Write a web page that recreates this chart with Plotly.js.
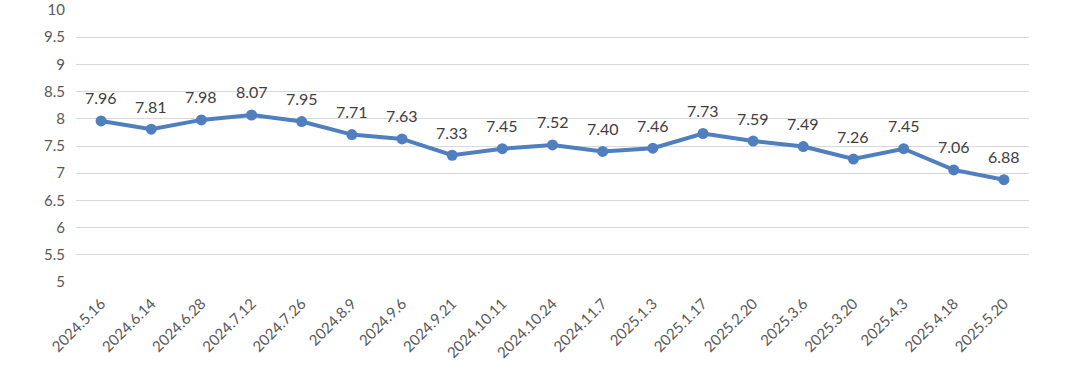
<!DOCTYPE html>
<html>
<head>
<meta charset="utf-8">
<script src="https://cdn.plot.ly/plotly-3.0.1.min.js"></script>
<style>html,body{margin:0;padding:0;background:#fff;}#chart{width:1080px;height:369px;}</style>
</head>
<body>
<div id="chart"></div>
<script>
const dates = ["2024.5.16","2024.6.14","2024.6.28","2024.7.12","2024.7.26","2024.8.9","2024.9.6","2024.9.21","2024.10.11","2024.10.24","2024.11.7","2025.1.3","2025.1.17","2025.2.20","2025.3.6","2025.3.20","2025.4.3","2025.4.18","2025.5.20"];
const values = [7.96,7.81,7.98,8.07,7.95,7.71,7.63,7.33,7.45,7.52,7.40,7.46,7.73,7.59,7.49,7.26,7.45,7.06,6.88];
const yTicks = [5,5.5,6,6.5,7,7.5,8,8.5,9,9.5,10];

const font = "Lato, 'Open Sans', 'Liberation Sans', sans-serif";
const annotations = dates.map((d, i) => ({
  x: d, y: values[i], xref: 'x', yref: 'y',
  text: values[i].toFixed(2), showarrow: false, yshift: 23,
  font: {family: font, size: 16, color: '#404040'}
}));

const trace = {
  x: dates, y: values, type: 'scatter', mode: 'lines+markers',
  line: {color: '#4f7fbe', width: 4},
  marker: {color: '#4f7fbe', size: 11},
  hoverinfo: 'skip'
};

const layout = {
  width: 1080, height: 369,
  margin: {l: 76, r: 51, t: 10, b: 87},
  paper_bgcolor: '#fff', plot_bgcolor: '#fff',
  showlegend: false,
  xaxis: {
    type: 'category', range: [-0.5, dates.length - 0.5], autorange: false,
    tickangle: -45, showgrid: false, zeroline: false, showline: false,
    automargin: false, ticks: '', ticklabelstandoff: 9,
    tickfont: {family: font, size: 15, color: '#595959'}
  },
  yaxis: {
    range: [5, 10], tickvals: yTicks, ticktext: yTicks.map(String),
    showgrid: true, gridcolor: '#d9d9d9', gridwidth: 1, zeroline: false, showline: false,
    automargin: false, ticks: '', ticklabelstandoff: 10,
    tickfont: {family: font, size: 15, color: '#595959'}
  },
  annotations: annotations
};

Plotly.newPlot('chart', [trace], layout, {displayModeBar: false, staticPlot: true});
</script>
</body>
</html>
